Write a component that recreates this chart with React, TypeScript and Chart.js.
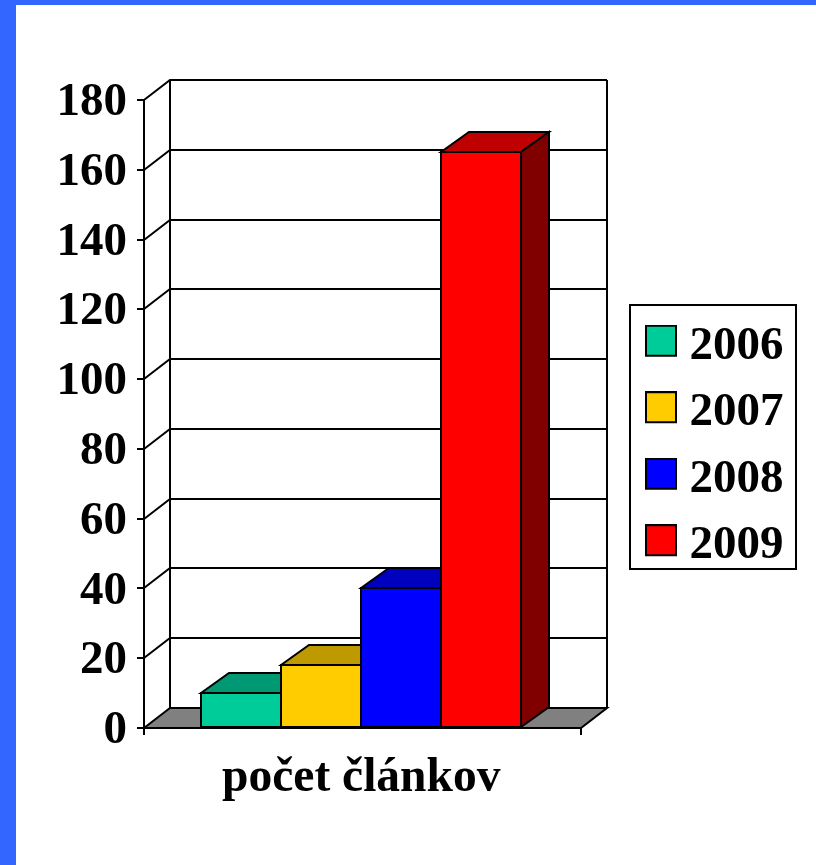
import React, { useEffect, useRef } from "react";
import { Chart, registerables } from "chart.js";

Chart.register(...registerables);

const categories = ["počet článkov"];
const years = ["2006", "2007", "2008", "2009"];
const values = [10, 18, 40, 165];
const frontColors = ["#00CC99", "#FFCC00", "#0000FF", "#FF0000"];
const topColors = ["#009973", "#BF9900", "#0000BF", "#BF0000"];
const sideColors = ["#006650", "#806600", "#000080", "#800000"];
const yTickStep = 20;
const yMax = 180;
const FONT = '"Liberation Serif", "Times New Roman", serif';

const WALL_DX = 26;
const WALL_DY = -20;
const BAR_DX = 28;
const BAR_DY = -20;
const AXIS_EXTRA = 2;

// Legend swatch sits a little above the text's centre, as in the reference.
function swatch(color: string) {
  const c = document.createElement("canvas");
  c.width = 32;
  c.height = 44;
  const g = c.getContext("2d") as CanvasRenderingContext2D;
  g.fillStyle = color;
  g.fillRect(1, 1, 30, 30);
  g.strokeStyle = "#000";
  g.lineWidth = 2;
  g.strokeRect(1, 1, 30, 30);
  return c;
}

const threeD = {
  id: "threeD",
  beforeDatasetsDraw(chart: any) {
    const { ctx, scales } = chart;
    const y = scales.y;
    const x = scales.x;
    const left = x.left;
    const right = Math.round(x.right + AXIS_EXTRA);
    const base = Math.round(y.getPixelForValue(0));
    const top = Math.round(y.getPixelForValue(yMax));
    ctx.save();
    ctx.lineWidth = 2;
    ctx.strokeStyle = "#000";
    ctx.lineJoin = "miter";

    ctx.beginPath();
    ctx.moveTo(left, base);
    ctx.lineTo(left + WALL_DX, base + WALL_DY);
    ctx.lineTo(right + WALL_DX, base + WALL_DY);
    ctx.lineTo(right, base);
    ctx.closePath();
    ctx.fillStyle = "#808080";
    ctx.fill();
    ctx.stroke();

    ctx.beginPath();
    ctx.moveTo(left + WALL_DX, base + WALL_DY);
    ctx.lineTo(left + WALL_DX, top + WALL_DY);
    ctx.moveTo(right + WALL_DX, base + WALL_DY);
    ctx.lineTo(right + WALL_DX, top + WALL_DY);
    y.ticks.forEach((t: any) => {
      if (t.value === 0) return;
      const py = Math.round(y.getPixelForValue(t.value));
      ctx.moveTo(left, py);
      ctx.lineTo(left + WALL_DX, py + WALL_DY);
      ctx.lineTo(right + WALL_DX, py + WALL_DY);
    });
    ctx.stroke();

    chart.data.datasets.forEach((_: any, i: number) => {
      const el = chart.getDatasetMeta(i).data[0];
      const l = Math.round(el.x - el.width / 2);
      const r = Math.round(el.x + el.width / 2);
      const t = Math.round(el.y);
      const b = Math.round(el.base);
      ctx.fillStyle = topColors[i];
      ctx.beginPath();
      ctx.moveTo(l, t);
      ctx.lineTo(l + BAR_DX, t + BAR_DY);
      ctx.lineTo(r + BAR_DX, t + BAR_DY);
      ctx.lineTo(r, t);
      ctx.closePath();
      ctx.fill();
      ctx.stroke();
      ctx.fillStyle = sideColors[i];
      ctx.beginPath();
      ctx.moveTo(r, t);
      ctx.lineTo(r + BAR_DX, t + BAR_DY);
      ctx.lineTo(r + BAR_DX, b + BAR_DY);
      ctx.lineTo(r, b);
      ctx.closePath();
      ctx.fill();
      ctx.stroke();
    });
    ctx.restore();
  },
  afterDatasetsDraw(chart: any) {
    const { ctx, scales } = chart;
    const x = scales.x;
    const y = scales.y;
    const base = Math.round(y.getPixelForValue(0));
    const right = Math.round(x.right + AXIS_EXTRA);
    ctx.save();
    ctx.lineWidth = 2;
    ctx.strokeStyle = "#000";
    chart.data.datasets.forEach((_: any, i: number) => {
      const el = chart.getDatasetMeta(i).data[0];
      const l = Math.round(el.x - el.width / 2);
      const r = Math.round(el.x + el.width / 2);
      const t = Math.round(el.y);
      ctx.strokeRect(l, t, r - l, Math.round(el.base) - t);
    });
    ctx.beginPath();
    ctx.moveTo(x.left, base);
    ctx.lineTo(right, base);
    ctx.moveTo(x.left, base);
    ctx.lineTo(x.left, base + 7);
    ctx.moveTo(right, base);
    ctx.lineTo(right, base + 7);
    ctx.stroke();
    ctx.strokeRect(630, 305, 166, 264);
    ctx.restore();
  },
};

export default function App() {
  const ref = useRef<HTMLCanvasElement>(null);
  useEffect(() => {
    const swatches = frontColors.map(swatch);
    const chart = new Chart(ref.current as HTMLCanvasElement, {
      type: "bar",
      data: {
        labels: categories,
        datasets: years.map((year, i) => ({
          label: year,
          data: [values[i]],
          backgroundColor: frontColors[i],
          borderColor: "#000",
          borderWidth: 0,
          barPercentage: 1,
          categoryPercentage: 320 / 434,
        })),
      },
      options: {
        responsive: false,
        animation: false,
        layout: { padding: { top: 67, left: 0, right: 22.5, bottom: 39 } },
        plugins: {
          title: { display: false },
          tooltip: { enabled: false },
          legend: {
            position: "right",
            labels: {
              color: "#000",
              font: { family: FONT, size: 47, weight: "bold" },
              boxWidth: 10,
              boxHeight: 30,
              usePointStyle: true,
              padding: 19.5,
              generateLabels: (chart: any) =>
                chart.data.datasets.map((d: any, i: number) => ({
                  text: d.label,
                  fillStyle: frontColors[i],
                  strokeStyle: "#000",
                  lineWidth: 2,
                  pointStyle: swatches[i],
                  datasetIndex: i,
                  fontColor: "#000",
                })),
            },
          },
        },
        scales: {
          x: {
            afterFit: (s: any) => {
              s.height = 98;
            },
            grid: { display: false },
            border: { display: false },
            ticks: {
              color: "#000",
              padding: 14,
              font: { family: FONT, size: 47.5, weight: "bold" },
              maxRotation: 0,
            },
          },
          y: {
            min: 0,
            max: yMax,
            afterFit: (s: any) => {
              s.width = 144;
              s.paddingTop = 100;
            },
            grid: { drawOnChartArea: false, color: "#000", lineWidth: 2, tickLength: 7 },
            border: { display: true, color: "#000", width: 2 },
            ticks: {
              stepSize: yTickStep,
              autoSkip: false,
              color: "#000",
              padding: 10,
              labelOffset: 3,
              font: { family: FONT, size: 47, weight: "bold" },
            },
          },
          legendGap: {
            position: "right",
            display: false,
            afterFit: (s: any) => {
              s.width = 58;
            },
          },
        },
      },
      plugins: [threeD],
    } as any);
    return () => chart.destroy();
  }, []);
  return (
    <div style={{ position: "fixed", left: 0, top: 0, width: 816, height: 865, background: "#fff", overflow: "hidden" }}>
      <div style={{ position: "absolute", left: 0, top: 0, width: 816, height: 5, background: "#3366FF" }} />
      <div style={{ position: "absolute", left: 0, top: 0, width: 16, height: 865, background: "#3366FF" }} />
      <canvas ref={ref} width={816} height={865} style={{ position: "absolute", left: 0, top: 0, display: "block" }} />
    </div>
  );
}
